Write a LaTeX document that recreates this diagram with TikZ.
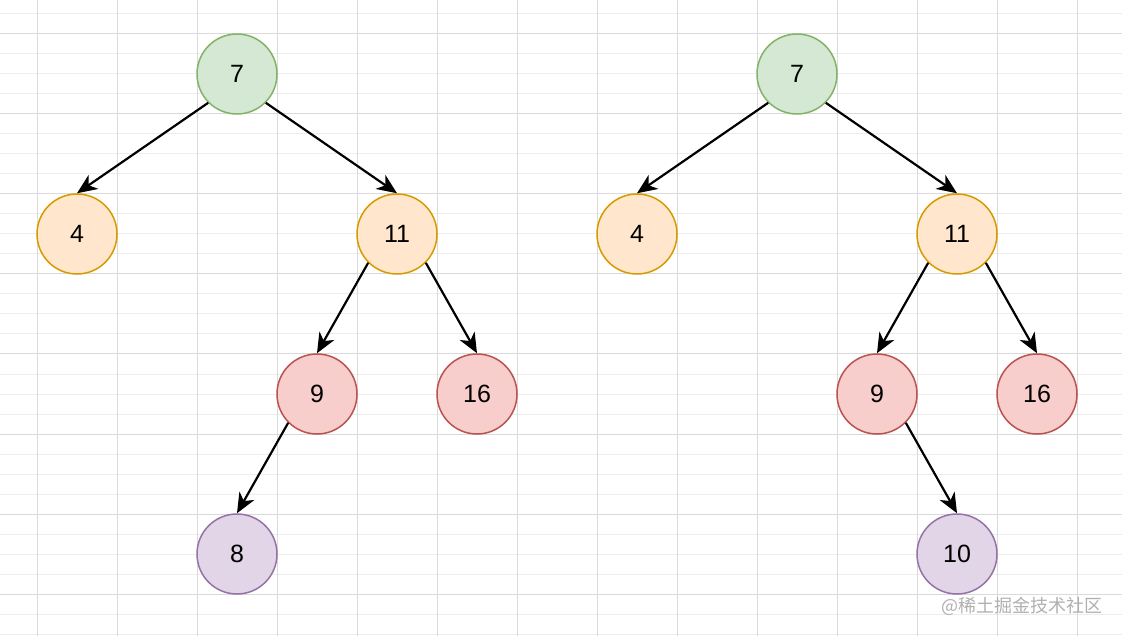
\documentclass[tikz,border=0pt]{standalone}
\usepackage{fontspec}
\setmainfont{Liberation Sans}
\newfontfamily\cjk{Noto Sans CJK SC}
\usetikzlibrary{arrows.meta}
\definecolor{gfill}{HTML}{D5E8D4}\definecolor{gline}{HTML}{82B366}
\definecolor{ofill}{HTML}{FFE6CC}\definecolor{oline}{HTML}{D79B00}
\definecolor{rfill}{HTML}{F8CECC}\definecolor{rline}{HTML}{B85450}
\definecolor{pfill}{HTML}{E1D5E7}\definecolor{pline}{HTML}{9673A6}
\definecolor{minorgrid}{HTML}{EDEDED}\definecolor{majorgrid}{HTML}{DADADA}
\definecolor{wmark}{HTML}{B0B0B0}
\tikzset{
  tnode/.style={circle, minimum size=80pt, inner sep=0pt, line width=1.5pt, font=\fontsize{25}{29}\selectfont},
  gnode/.style={tnode, fill=gfill, draw=gline},
  onode/.style={tnode, fill=ofill, draw=oline},
  rnode/.style={tnode, fill=rfill, draw=rline},
  pnode/.style={tnode, fill=pfill, draw=pline},
  edge/.style={line width=2.2pt, -{Stealth[length=20pt,width=17pt,inset=6pt]}},
}
\begin{document}
\begin{tikzpicture}[x=1pt,y=-1pt]
\useasboundingbox (0,0) rectangle (1122,636);
\fill[white] (0,0) rectangle (1122,636);
\foreach \y in {14,34,...,634} \draw[minorgrid, line width=1pt] (0,\y) -- (1122,\y);
\foreach \y in {34,114,...,594} \draw[majorgrid, line width=1pt] (0,\y) -- (1122,\y);
\foreach \x in {37,117,...,1117} \draw[majorgrid, line width=1pt] (\x,0) -- (\x,636);

% left tree
\node[gnode] (a7) at (237,74) {7};
\node[onode] (a4) at (77,234) {4};
\node[onode] (a11) at (397,234) {11};
\node[rnode] (a9) at (317,394) {9};
\node[rnode] (a16) at (477,394) {16};
\node[pnode] (a8) at (237,554) {8};
\draw[edge] (a7.south west) -- (a4.north);
\draw[edge] (a7.south east) -- (a11.north);
\draw[edge] (a11.south west) -- (a9.north);
\draw[edge] (a11.south east) -- (a16.north);
\draw[edge] (a9.south west) -- (a8.north);

% right tree
\node[gnode] (b7) at (797,74) {7};
\node[onode] (b4) at (637,234) {4};
\node[onode] (b11) at (957,234) {11};
\node[rnode] (b9) at (877,394) {9};
\node[rnode] (b16) at (1037,394) {16};
\node[pnode] (b10) at (957,554) {10};
\draw[edge] (b7.south west) -- (b4.north);
\draw[edge] (b7.south east) -- (b11.north);
\draw[edge] (b11.south west) -- (b9.north);
\draw[edge] (b11.south east) -- (b16.north);
\draw[edge] (b9.south east) -- (b10.north);

\node[text=wmark, font=\cjk\fontsize{18}{20}\selectfont, anchor=east, inner sep=0pt] (wm) at (1103,606) {@稀土掘金技术社区};
\end{tikzpicture}
\end{document}
